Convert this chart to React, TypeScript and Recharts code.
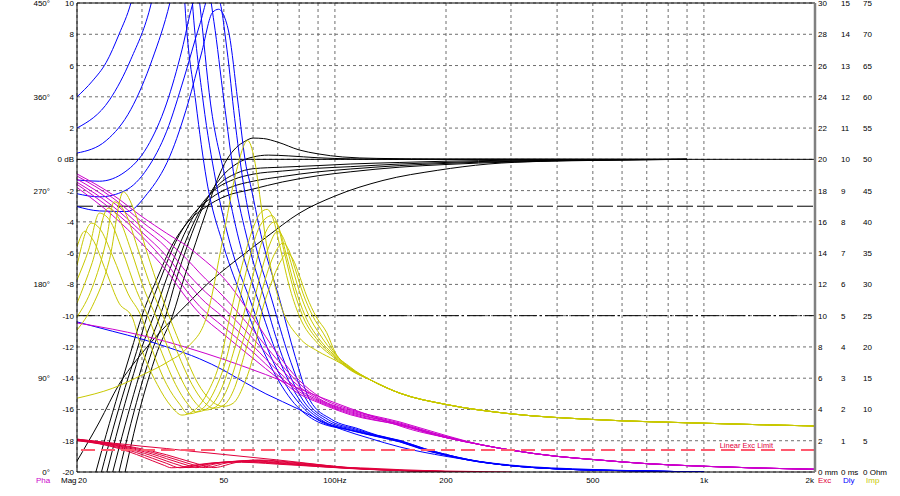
import { LineChart, Line, XAxis, YAxis, CartesianGrid, ReferenceLine } from 'recharts'

type Pt = [number, number]

// ── axes ─────────────────────────────────────────────────────────────────────

const X_TICKS = [20, 30, 40, 50, 60, 70, 80, 90, 100, 200, 300, 400, 500, 600, 700, 800, 900, 1000, 2000]
const X_LABELS: Record<number, string> = { 20: '20', 50: '50', 100: '100Hz', 200: '200', 500: '500', 1000: '1k', 2000: '2k' }
const DB_TICKS = [-20, -18, -16, -14, -12, -10, -8, -6, -4, -2, 0, 2, 4, 6, 8, 10]
const PHA_TICKS = [0, 90, 180, 270, 360, 450]
const MM_TICKS = [0, 2, 4, 6, 8, 10, 12, 14, 16, 18, 20, 22, 24, 26, 28, 30]
const MS_TICKS = [0, 1, 2, 3, 4, 5, 6, 7, 8, 9, 10, 11, 12, 13, 14, 15]
const OHM_TICKS = [0, 5, 10, 15, 20, 25, 30, 35, 40, 45, 50, 55, 60, 65, 70, 75]

const EXC_LIMIT = 1.41

// ── SPL (dB) ─────────────────────────────────────────────────────────────────

const splSealed: Pt[] = [[20,-19.3],[23,-16.8],[26,-14.4],[30,-12.4],[35,-10.6],[40,-9.2],[45,-8.0],[53,-6.6],[65,-5.0],[80,-3.45],[100,-2.35],[135,-1.35],[190,-0.7],[260,-0.3],[360,-0.13],[500,-0.05],[900,0]]
const splVented: Pt[][] = [
  [[22.5,-20],[24,-17.6],[26,-14.8],[28,-12.3],[30,-10],[33,-7.6],[36,-5.6],[40,-4.0],[45,-3.0],[50,-2.4],[60,-1.9],[72,-1.45],[90,-1.05],[110,-0.8],[150,-0.5],[200,-0.33],[300,-0.17],[500,-0.07],[900,0]],
  [[23.3,-20],[25,-17.3],[27,-14.6],[29,-12.3],[31,-10],[34,-7.4],[37,-5.3],[41,-3.6],[46,-2.5],[52,-1.8],[60,-1.4],[72,-1.1],[90,-0.8],[110,-0.62],[150,-0.4],[200,-0.26],[300,-0.13],[500,-0.05],[900,0]],
  [[24.1,-20],[26,-17.0],[28,-14.3],[30,-12.0],[32.3,-10],[35,-7.6],[38,-5.4],[42,-3.4],[47,-2.0],[53,-1.3],[60,-0.95],[72,-0.75],[90,-0.57],[110,-0.47],[150,-0.3],[200,-0.2],[300,-0.1],[500,-0.04],[900,0]],
  [[25,-20],[27,-17.0],[29,-14.4],[31,-12.2],[33.6,-10],[36,-7.8],[39,-5.5],[43,-3.3],[48,-1.7],[54,-0.9],[60,-0.6],[72,-0.5],[90,-0.4],[110,-0.3],[150,-0.2],[200,-0.12],[300,-0.06],[900,0]],
  [[26,-20],[28,-16.9],[30,-14.3],[32,-12.2],[34.8,-10],[37,-7.8],[40,-5.4],[44,-3.0],[49,-1.2],[54,-0.3],[60,0.15],[66,0.27],[75,0.22],[90,0.1],[110,0.03],[150,0],[900,0]],
  [[27,-20],[29,-16.8],[31,-14.3],[33,-12.3],[36.3,-10],[39,-7.6],[42,-5.3],[45,-3.2],[48,-1.3],[51,0],[54,0.75],[57,1.15],[60,1.36],[64,1.33],[70,1.1],[80,0.6],[90,0.35],[105,0.15],[130,0.06],[200,0.02],[900,0]],
]

// ── group delay (ms) ─────────────────────────────────────────────────────────

const dlyTail: Pt[] = [[290,0.22],[400,0.1],[700,0.03],[1000,0]]
const dlySealed: Pt[] = [[20,4.8],[25,4.5],[30,4.25],[35,4.0],[43,3.62],[50,3.25],[55.5,2.94],[65,2.5],[80,2.0],[91,1.65],[105,1.35],[124,1.08],[150,0.8],[200,0.5],[300,0.22],[500,0.08],[800,0.02],[1000,0]]
const dlyVented: Pt[][] = [
  [[20,12.0],[22,12.5],[24,13.1],[26,14.0],[28,15.0],[31,17.5],[34,20.5],[36,21.5],[37.6,19.5],[39.2,15],[42,11.8],[44.9,9.34],[50,7.2],[56.3,5.5],[65,3.7],[76.3,2.3],[88,1.66],[110,1.33],[130,1.13],[150,0.96],[175,0.7],[200,0.53],[230,0.38], ...dlyTail],
  [[20,11.0],[24.5,11.9],[28,13.2],[31.8,15],[35,17.5],[38,19],[39.6,18],[41.1,15],[44,11.8],[47.5,9.34],[52,7.3],[58.9,5.5],[67,3.7],[78.7,2.3],[90,1.66],[110,1.34],[130,1.14],[150,0.97],[175,0.71],[200,0.54],[230,0.38], ...dlyTail],
  [[20,10.2],[24,10.6],[28,11.6],[32,13.2],[35.7,15],[38.5,16.8],[40.5,17],[42,16],[43,15],[46,11.8],[50.6,9.34],[55,7.4],[61.9,5.5],[70,3.7],[80.3,2.3],[92,1.66],[110,1.35],[130,1.15],[150,0.98],[175,0.72],[200,0.55],[230,0.39], ...dlyTail],
  [[20,9.34],[23,9.3],[27,9.6],[31,10.4],[35,11.8],[38.5,13.5],[41,14.9],[43.5,15.7],[45.5,15.4],[47,14.4],[50,11.9],[53.5,9.34],[58,7.4],[64.6,5.5],[72,3.7],[81.9,2.3],[94,1.66],[112,1.36],[130,1.16],[150,0.99],[175,0.73],[200,0.55],[230,0.39], ...dlyTail],
  [[20,8.9],[23,8.8],[27,9.0],[31,9.7],[35,10.9],[39,12.6],[43,14.3],[46,15.3],[48.5,15.1],[51,13.5],[53.5,11.3],[56.3,9.34],[60,7.6],[67.5,5.5],[75,3.7],[83.8,2.3],[96,1.67],[114,1.37],[130,1.17],[150,1.0],[175,0.74],[200,0.56],[230,0.4], ...dlyTail],
  [[20,8.49],[23,8.35],[27.3,8.33],[31,8.9],[35.7,10.1],[40,11.8],[43.5,13.4],[46.6,14.7],[48.4,14.8],[50,14.6],[51.7,14.0],[54.5,11.9],[57.5,9.76],[59,9.2],[63,7.6],[70.9,5.5],[78,3.7],[85.5,2.3],[98,1.68],[116,1.38],[130,1.18],[150,1.01],[175,0.75],[200,0.56],[230,0.4], ...dlyTail],
]

// ── phase (deg) ──────────────────────────────────────────────────────────────

const phaTail: Pt[] = [[250,26],[300,21],[400,15],[500,12],[700,8],[1000,5.5],[1400,3.8],[2000,2.6]]
const phaSealed: Pt[] = [[20,143],[25,137],[30,131],[35,125],[40,119],[50,108],[60,98],[70,89],[80,80],[91,72],[110,61],[130,52],[160,41],[200,33], ...phaTail]
const phaVented: Pt[][] = [
  [[20,286],[25,266],[30,245],[35,229],[40,216],[43,207],[50,186],[60,148],[70,113],[80,88],[91,72],[110,60],[150,48],[200,35], ...phaTail],
  [[20,284],[25,263],[30,240],[35,222],[40,203],[43,191],[50,168],[60,136],[70,107],[80,85],[91,70],[110,59],[150,47],[200,34], ...phaTail],
  [[20,281],[25,259],[30,235],[35,215],[40,190],[43,178],[50,157],[60,128],[70,102],[80,82],[91,69],[110,58],[150,46],[200,34], ...phaTail],
  [[20,278],[25,255],[30,230],[35,207],[40,181],[43,168],[50,148],[60,121],[70,97],[80,79],[91,68],[110,57],[150,46],[200,33], ...phaTail],
  [[20,276],[25,251],[30,226],[35,200],[40,172],[43,159],[50,139],[60,115],[70,93],[80,77],[91,67],[110,56],[150,45],[200,33], ...phaTail],
  [[20,273],[25,246],[30,219],[35,193],[40,165],[43,152],[50,132],[60,109],[70,90],[80,75],[91,66],[110,55],[150,45],[200,33], ...phaTail],
]

// ── impedance (ohm) ──────────────────────────────────────────────────────────

const impTail: Pt[] = [[125,14.7],[150,12.6],[200,10.8],[300,9.3],[500,8.4],[1000,7.8],[2000,7.36]]
const impSealed: Pt[] = [[20,11.8],[25,13.4],[30,15.5],[35,17.5],[40,20],[45,25],[49.6,37],[54,48],[58,53],[60.5,50],[62.8,43.5],[65,37],[68,31],[72,26],[80,21.5],[90,19.3],[100,17.9], ...impTail]
const impVented: Pt[][] = [
  [[20,36],[21,38.5],[22,37.3],[24,32],[26,27],[28.2,24.8],[30,19.5],[33,14],[36,10.5],[38.5,9.1],[41,9.6],[45,12.5],[49,18],[52,25],[56,33],[60,39],[63,41.5],[65.5,42],[68,40.5],[71,36],[75,30],[80,25],[90,20.5],[100,18.2],[110,16.3], ...impTail],
  [[20,33],[21.9,39.8],[23,39],[25,34.5],[27.5,28.5],[29.9,24.8],[32,19.5],[35,14],[38,10.8],[40,9.3],[43,9.8],[47,12.8],[51,18.5],[54,25],[58,33],[62,38.8],[65,40.6],[67.5,41],[70,39.5],[73,35],[77,29.5],[82,24.8],[90,21],[100,18.4],[110,16.4], ...impTail],
  [[20,30.7],[21.5,35.5],[23,41.4],[24.5,40.3],[26.5,35.5],[29,29],[31.2,24.8],[34,19],[37,14],[40,10.8],[42,9.6],[45,10.1],[49,13],[53,19],[56.5,25],[60,31.5],[64,37.5],[68.6,40],[71,38.5],[74,34.5],[78,29.5],[83,25],[90,21.5],[100,18.6],[110,16.5], ...impTail],
  [[20,27],[22,33.5],[24.3,42.2],[26,40.5],[28,35.5],[30.5,29],[32.8,24.8],[36,18.5],[39,14],[42,11],[44.5,9.9],[47.5,10.4],[51,13.2],[55,19],[59,25],[62.5,31],[66,35.8],[70,38.5],[73,37],[76,33.5],[80,29],[85,25],[91,22],[100,18.8],[110,16.6], ...impTail],
  [[20,24.8],[22,29.5],[24,37],[25.2,43.2],[27,41.5],[29.5,35],[32,29],[34.3,24.8],[37.5,19],[41,14],[44,11.3],[47,10.2],[50,10.7],[53.5,13.5],[57,19],[61,25],[64.5,30.5],[68.5,34.8],[72.3,36.6],[75,35.5],[78,32.5],[82,28.5],[87,25],[93,22.2],[100,19.0],[110,16.7], ...impTail],
  [[20,22.7],[22,26.5],[24.5,34],[26.7,44.8],[28.5,42],[31,35],[33.5,29],[35.6,24.8],[39,19],[42.5,14.2],[46,11.5],[50,10.5],[53,11],[56.5,13.8],[60,18.5],[63,25],[67,30],[71,33.5],[74,35],[77,34],[80,31.5],[84,28],[89,24.8],[95,22.3],[100,19.2],[110,16.8], ...impTail],
]

// ── excursion (mm) ───────────────────────────────────────────────────────────

const excSealed: Pt[] = [[20,2.1],[25,1.85],[30,1.65],[35,1.5],[40,1.35],[50,1.12],[60,0.93],[70,0.77],[80,0.62],[90,0.48],[100,0.35],[124,0.24],[150,0.15],[200,0.06],[260,0.02],[300,0]]
const excVented: Pt[][] = [
  [[20,2.0],[23,1.8],[26,1.5],[29,1.12],[32,0.72],[34.5,0.42],[36,0.27],[38,0.3],[41,0.42],[46,0.57],[52,0.63],[60,0.6],[70,0.5],[80,0.42],[91,0.34],[110,0.22],[130,0.14],[160,0.07],[200,0.03],[250,0]],
  [[20,2.02],[23,1.82],[26,1.56],[29,1.24],[32,0.88],[35,0.55],[38,0.27],[40,0.31],[43,0.45],[48,0.6],[54,0.66],[62,0.62],[72,0.52],[82,0.43],[91,0.35],[110,0.23],[130,0.15],[160,0.07],[200,0.03],[250,0]],
  [[20,2.04],[23,1.85],[26,1.62],[29,1.34],[32,1.03],[35,0.7],[38,0.42],[40,0.28],[42,0.33],[45,0.48],[50,0.63],[56,0.69],[64,0.64],[74,0.53],[84,0.44],[92,0.36],[110,0.24],[130,0.15],[160,0.08],[200,0.03],[250,0]],
  [[20,2.06],[23,1.88],[26,1.67],[29,1.42],[32,1.15],[35,0.85],[38,0.58],[40.5,0.38],[42,0.28],[44,0.33],[47,0.5],[52,0.66],[58,0.72],[66,0.66],[76,0.54],[86,0.45],[94,0.37],[110,0.25],[130,0.16],[160,0.08],[200,0.03],[250,0]],
  [[20,2.08],[23,1.9],[26,1.71],[29,1.49],[32,1.25],[35,0.98],[38,0.72],[41,0.48],[44.5,0.28],[46.5,0.34],[49.5,0.52],[54,0.68],[60,0.75],[68,0.69],[78,0.56],[88,0.46],[96,0.38],[110,0.26],[130,0.16],[160,0.08],[200,0.03],[250,0]],
  [[20,2.1],[23,1.93],[26,1.75],[29,1.55],[32,1.33],[35,1.1],[38,0.85],[41,0.62],[44,0.42],[47,0.28],[49,0.34],[52,0.52],[56,0.68],[62,0.77],[70,0.71],[80,0.58],[90,0.47],[98,0.39],[110,0.27],[130,0.17],[160,0.08],[200,0.03],[250,0]],
]

// ── style ────────────────────────────────────────────────────────────────────

const FONT = '"Liberation Sans", Arial, sans-serif'
const FS = 8
const C_SPL = '#000000'
const C_DLY = '#0000ff'
const C_PHA = '#cc00cc'
const C_IMP = '#c8c800'
const C_EXC = '#e0003c'
const C_LIMIT = '#ff5a6e'
const C_GRID = '#6e6e6e'

const toPts = (a: Pt[]) => a.map(([f, v]) => ({ f, v }))

// eslint-disable-next-line @typescript-eslint/no-explicit-any
const makeTick = (anchor: 'start' | 'end', fmt: (v: number) => string) => (p: any) => (
  <text x={p.x} y={p.y} dy={3} textAnchor={anchor} fontSize={FS} fontFamily={FONT} fill="#000">
    {fmt(p.payload.value)}
  </text>
)

// eslint-disable-next-line @typescript-eslint/no-explicit-any
function XTick(p: any) {
  const v = p.payload.value as number
  const s = X_LABELS[v]
  if (!s) return <g />
  const anchor = v === 20 ? 'start' : v === 2000 ? 'end' : 'middle'
  const x = v === 20 ? p.x + 1 : v === 2000 ? p.x - 1 : p.x
  return (
    <text x={x} y={p.y} dy={11} textAnchor={anchor} fontSize={FS} fontFamily={FONT} fill="#000">{s}</text>
  )
}

function curve(key: string, data: Pt[], axis: string, color: string) {
  return (
    <Line key={key} data={toPts(data)} dataKey="v" yAxisId={axis} type="monotone" stroke={color}
      strokeWidth={1} dot={false} activeDot={false} isAnimationActive={false} />
  )
}

export default function App() {
  return (
    <div style={{ position: 'absolute', left: 0, top: 0, width: 900, height: 496, background: '#fff' }}>
      <LineChart width={900} height={496} margin={{ top: 3, right: 0, bottom: 0, left: 0 }}>
        <XAxis xAxisId={0} dataKey="f" type="number" scale="log" domain={[20, 2000]} allowDataOverflow
          ticks={X_TICKS} interval={0} height={24} axisLine={false} tickLine={false}
          tickSize={0} tickMargin={0} tick={XTick} />
        <YAxis yAxisId="db" orientation="left" width={27} domain={[-20, 10]} allowDataOverflow
          ticks={DB_TICKS} interval={0} axisLine={false} tickLine={false} tickSize={3} tickMargin={0}
          tick={makeTick('end', v => (v === 0 ? '0 dB' : String(v)))} />
        <YAxis yAxisId="pha" orientation="left" width={50} domain={[0, 450]} allowDataOverflow
          ticks={PHA_TICKS} interval={0} axisLine={false} tickLine={false} tickSize={0} tickMargin={0}
          tick={makeTick('end', v => `${v}°`)} />
        <YAxis yAxisId="mm" orientation="right" width={23} domain={[0, 30]} allowDataOverflow
          ticks={MM_TICKS} interval={0} axisLine={false} tickLine={false} tickSize={3} tickMargin={0}
          tick={makeTick('start', v => (v === 0 ? '0 mm' : String(v)))} />
        <YAxis yAxisId="ms" orientation="right" width={22} domain={[0, 15]} allowDataOverflow
          ticks={MS_TICKS} interval={0} axisLine={false} tickLine={false} tickSize={3} tickMargin={0}
          tick={makeTick('start', v => (v === 0 ? '0 ms' : String(v)))} />
        <YAxis yAxisId="ohm" orientation="right" width={40} domain={[0, 75]} allowDataOverflow
          ticks={OHM_TICKS} interval={0} axisLine={false} tickLine={false} tickSize={3} tickMargin={0}
          tick={makeTick('start', v => (v === 0 ? '0 Ohm' : String(v)))} />

        <CartesianGrid yAxisId="db" stroke={C_GRID} strokeDasharray="3 3" />

        <ReferenceLine yAxisId="db" y={0} stroke="#000" />
        <ReferenceLine yAxisId="db" y={-3} stroke="#000" strokeDasharray="16 4" />
        <ReferenceLine yAxisId="db" y={-10} stroke="#000" strokeDasharray="18 3 2 3" />

        {curve('spl-s', splSealed, 'db', C_SPL)}
        {splVented.map((d, i) => curve(`spl-${i}`, d, 'db', C_SPL))}
        {curve('dly-s', dlySealed, 'ms', C_DLY)}
        {dlyVented.map((d, i) => curve(`dly-${i}`, d, 'ms', C_DLY))}
        {curve('pha-s', phaSealed, 'pha', C_PHA)}
        {phaVented.map((d, i) => curve(`pha-${i}`, d, 'pha', C_PHA))}
        {curve('imp-s', impSealed, 'ohm', C_IMP)}
        {impVented.map((d, i) => curve(`imp-${i}`, d, 'ohm', C_IMP))}
        {curve('exc-s', excSealed, 'mm', C_EXC)}
        {excVented.map((d, i) => curve(`exc-${i}`, d, 'mm', C_EXC))}

        <ReferenceLine yAxisId="mm" y={EXC_LIMIT} stroke={C_LIMIT} strokeWidth={2} strokeDasharray="14 6"
          // eslint-disable-next-line @typescript-eslint/no-explicit-any
          label={(p: any) => (
            <text x={p.viewBox.x + p.viewBox.width - 42} y={p.viewBox.y - 2} textAnchor="end"
              fontSize={7.5} fontFamily={FONT} fill={C_EXC}>Linear Exc Limit</text>
          )} />

        <ReferenceLine yAxisId="db" y={10} stroke="#000" />
        <ReferenceLine yAxisId="db" y={-20} stroke="#000" />
        <ReferenceLine yAxisId="db" x={20} stroke="#000" />
        <ReferenceLine yAxisId="db" x={2000} stroke="#808080" strokeWidth={2.5} />
      </LineChart>

      <svg width={900} height={496} style={{ position: 'absolute', left: 0, top: 0, pointerEvents: 'none' }}
        fontFamily={FONT} fontSize={FS}>
        <text x={36} y={483} fill={C_PHA}>Pha</text>
        <text x={61} y={483} fill="#000">Mag</text>
        <text x={818} y={483} fill={C_EXC}>Exc</text>
        <text x={843} y={483} fill={C_DLY}>Dly</text>
        <text x={866} y={483} fill={C_IMP}>Imp</text>
      </svg>
    </div>
  )
}
